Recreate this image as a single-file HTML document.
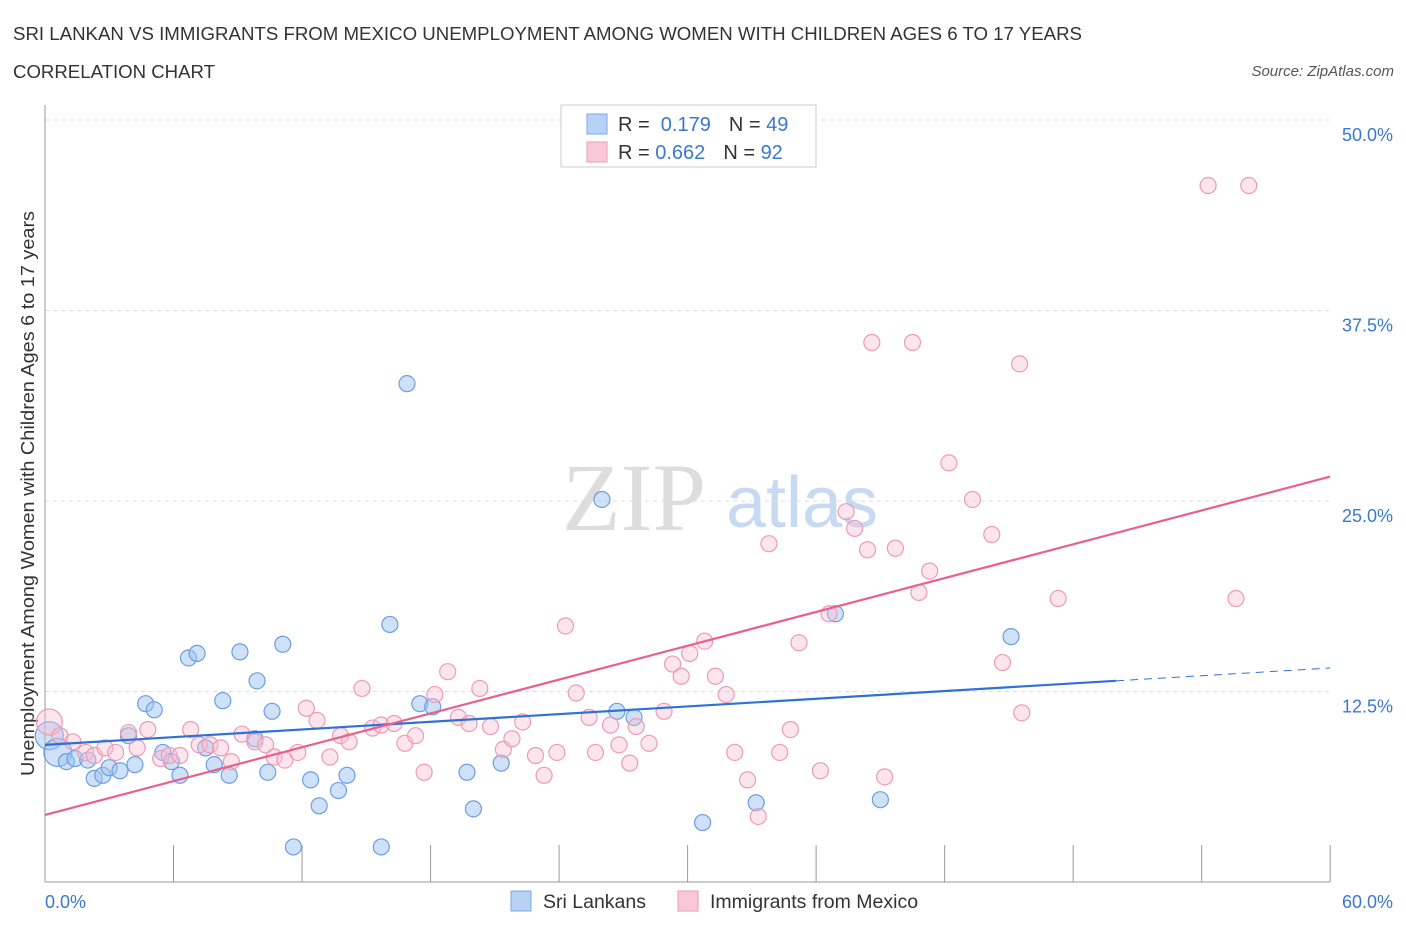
<!DOCTYPE html>
<html><head><meta charset="utf-8"><style>
body{margin:0;background:#fff;font-family:"Liberation Sans",sans-serif;}
svg{display:block}
</style></head><body>
<svg id="c" width="1406" height="930">
<text x="13" y="40" font-size="18" fill="#333" textLength="1069" lengthAdjust="spacingAndGlyphs">SRI LANKAN VS IMMIGRANTS FROM MEXICO UNEMPLOYMENT AMONG WOMEN WITH CHILDREN AGES 6 TO 17 YEARS</text>
<text x="13" y="78" font-size="18" fill="#333" textLength="202" lengthAdjust="spacingAndGlyphs">CORRELATION CHART</text>
<text x="1394" y="76" font-size="15" fill="#555" font-style="italic" text-anchor="end">Source: ZipAtlas.com</text>
<text x="634" y="530" font-size="96" fill="#ddd" font-family="Liberation Serif" text-anchor="middle">ZIP</text>
<text x="802" y="527" font-size="72" fill="#c8daf2" text-anchor="middle">atlas</text>
<text transform="translate(34,776) rotate(-90)" font-size="18" fill="#333" textLength="565" lengthAdjust="spacingAndGlyphs">Unemployment Among Women with Children Ages 6 to 17 years</text>
<g id="grid"></g><g id="pts"></g><g id="lines"></g>
<g>
<rect x="561" y="105" width="255" height="62" fill="#fff" stroke="#ccc"/>
<rect x="587" y="114" width="20" height="20" fill="#b8d2f5" stroke="#7aaae8"/>
<rect x="587" y="142" width="20" height="20" fill="#f8c8d8" stroke="#ee9ab5"/>
<text x="618" y="131" font-size="20" fill="#333">R = <tspan fill="#3a78d0">&#160;0.179</tspan><tspan dx="18">N = </tspan><tspan fill="#3a78d0">49</tspan></text>
<text x="618" y="159" font-size="20" fill="#333">R = <tspan fill="#3a78d0">0.662</tspan><tspan dx="18">N = </tspan><tspan fill="#3a78d0">92</tspan></text>
</g>
<g>
<rect x="511" y="891" width="20" height="20" fill="#b8d2f5" stroke="#7aaae8"/>
<text x="543" y="908" font-size="19.5" fill="#333">Sri Lankans</text>
<rect x="678" y="891" width="20" height="20" fill="#f8c8d8" stroke="#ee9ab5"/>
<text x="710" y="908" font-size="19.5" fill="#333">Immigrants from Mexico</text>
</g>
</svg>
<script>
const yTicks=[12.5,25,37.5,50];
const yTickLabels=["12.5%","25.0%","37.5%","50.0%"];
const xTickVals=[0,6,12,18,24,30,36,42,48,54,60];
const xEndLabels=["0.0%","60.0%"];
const blueX=[0.2,0.6,1.0,1.4,2.0,2.3,2.7,3.0,3.5,3.9,4.2,4.7,5.1,5.5,5.9,6.3,6.7,7.1,7.5,7.9,8.3,8.6,9.1,9.8,9.9,10.4,10.6,11.1,11.6,12.4,12.8,13.7,14.1,15.7,16.1,16.9,17.5,18.1,19.7,20.0,21.3,26.0,26.7,27.5,30.7,33.2,36.9,39.0,45.1];
const blueY=[9.6,8.5,7.9,8.1,8.0,6.8,7.0,7.5,7.3,9.6,7.7,11.7,11.3,8.5,7.9,7.0,14.7,15.0,8.8,7.7,11.9,7.0,15.1,9.4,13.2,7.2,11.2,15.6,2.3,6.7,5.0,6.0,7.0,2.3,16.9,32.7,11.7,11.5,7.2,4.8,7.8,25.1,11.2,10.8,3.9,5.2,17.6,5.4,16.1];
const pinkX=[0.2,0.7,1.3,1.9,2.3,2.8,3.3,3.9,4.3,4.8,5.4,5.8,6.3,6.8,7.2,7.7,8.2,8.7,9.2,9.8,10.3,10.7,11.2,11.8,12.2,12.7,13.3,13.8,14.2,14.8,15.3,15.7,16.3,16.8,17.3,17.7,18.2,18.8,19.3,19.8,20.3,20.8,21.4,21.8,22.3,22.9,23.3,23.9,24.3,24.8,25.4,25.7,26.4,26.8,27.3,27.6,28.2,28.9,29.3,29.7,30.1,30.8,31.3,31.8,32.2,32.8,33.3,33.8,34.3,34.8,35.2,36.2,36.6,37.4,37.8,38.4,38.6,39.2,39.7,40.5,40.8,41.3,42.2,43.3,44.2,44.7,45.5,45.6,47.3,54.3,55.6,56.2];
const pinkY=[10.5,9.6,9.2,8.5,8.3,8.8,8.5,9.8,8.8,10.0,8.1,8.3,8.3,10.0,9.0,9.0,8.8,7.9,9.7,9.2,9.0,8.2,8.0,8.5,11.4,10.6,8.2,9.6,9.2,12.7,10.1,10.3,10.4,9.1,9.6,7.2,12.3,13.8,10.8,10.4,12.7,10.2,8.7,9.4,10.5,8.3,7.0,8.5,16.8,12.4,10.8,8.5,10.3,9.0,7.8,10.2,9.1,11.2,14.3,13.5,15.0,15.8,13.5,12.3,8.5,6.7,4.3,22.2,8.5,10.0,15.7,7.3,17.6,24.3,23.2,21.8,35.4,6.9,21.9,35.4,19.0,20.4,27.5,25.1,22.8,14.4,34.0,11.1,18.6,45.7,18.6,45.7];
const blueTrend=[9.0,13.2];const blueTrendX=[0,50];
const pinkTrend=[4.4,26.6];const pinkTrendX=[0,60];
const NS="http://www.w3.org/2000/svg";
const X=v=>45+v*21.42, Y=v=>882-v*15.24;
function mk(t,a,p){const e=document.createElementNS(NS,t);for(const k in a)e.setAttribute(k,a[k]);p.appendChild(e);return e;}
const g=document.getElementById('grid');
yTicks.forEach((t,i)=>{
 const l=mk('line',{x1:45,x2:1330,y1:Y(t),y2:Y(t),stroke:'#ddd','stroke-dasharray':'4,4'},g);
 
 
 const tx=mk('text',{x:1393,y:Y(t)+21,'font-size':18,fill:'#3a78d0','text-anchor':'end'},g);tx.textContent=yTickLabels[i];
 
 
});
mk('line',{x1:45,x2:45,y1:105,y2:882,stroke:'#999'},g);
mk('line',{x1:45,x2:1330,y1:882,y2:882,stroke:'#999'},g);
xTickVals.forEach(v=>{const l=mk('line',{x1:X(v),x2:X(v),y1:845,y2:882,stroke:'#999'},g);
 
 });
const x0=mk('text',{x:45,y:908,'font-size':18,fill:'#3a78d0'},g);x0.textContent=xEndLabels[0];


const x1=mk('text',{x:1393,y:908,'font-size':18,fill:'#3a78d0','text-anchor':'end'},g);x1.textContent=xEndLabels[1];


const p=document.getElementById('pts');
blueX.forEach((v,i)=>{const c=mk('circle',{cx:X(v),cy:Y(blueY[i]),r:i<2?14:8,fill:'rgba(160,195,240,0.5)',stroke:'#6a9ee3','stroke-width':1.2},p);
 
 });
pinkX.forEach((v,i)=>{const c=mk('circle',{cx:X(v),cy:Y(pinkY[i]),r:i<1?13:8,fill:'rgba(248,190,210,0.4)',stroke:'#ee9ab5','stroke-width':1.2},p);
 
 });
const L=document.getElementById('lines');
const bl=mk('line',{x1:X(blueTrendX[0]),y1:Y(blueTrend[0]),x2:X(blueTrendX[1]),y2:Y(blueTrend[1]),stroke:'#2f72d6','stroke-width':2.2},L);


const slope=(blueTrend[1]-blueTrend[0])/(blueTrendX[1]-blueTrendX[0]);
const bd=mk('line',{x1:X(blueTrendX[1]),y1:Y(blueTrend[1]),x2:X(60),y2:Y(blueTrend[0]+slope*60),stroke:'#2f72d6','stroke-width':1,'stroke-dasharray':'8,6'},L);


const pl=mk('line',{x1:X(pinkTrendX[0]),y1:Y(pinkTrend[0]),x2:X(pinkTrendX[1]),y2:Y(pinkTrend[1]),stroke:'#e8608e','stroke-width':2.2},L);


</script>
</body></html>
